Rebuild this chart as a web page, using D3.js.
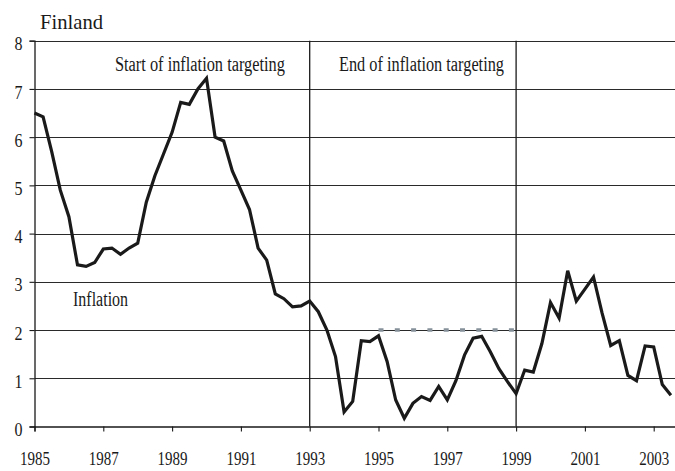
<!DOCTYPE html>
<html>
<head>
<meta charset="utf-8">
<script src="https://cdn.jsdelivr.net/npm/d3@7"></script>
<style>
  body { margin: 0; background: #fff; }
  svg text { font-family: "Liberation Serif", "Times New Roman", serif; fill: #1a1a1a; }
</style>
</head>
<body>
<svg id="chart" width="675" height="471"></svg>
<script>
// quarterly inflation, Finland, 1985Q1 .. 2003Q3
var startYear = 1985;
var inflation = [
  6.50, 6.42, 5.70, 4.90, 4.35, 3.35, 3.32, 3.40,
  3.68, 3.70, 3.57, 3.70, 3.80, 4.65, 5.20, 5.65,
  6.10, 6.72, 6.68, 7.00, 7.22, 6.00, 5.92, 5.30,
  4.90, 4.50, 3.70, 3.45, 2.75, 2.65, 2.48, 2.50,
  2.60, 2.38, 2.00, 1.45, 0.30, 0.52, 1.78, 1.76,
  1.88, 1.35, 0.55, 0.17, 0.48, 0.62, 0.54, 0.83,
  0.55, 0.95, 1.48, 1.83, 1.87, 1.55, 1.20, 0.93,
  0.68, 1.17, 1.13, 1.72, 2.57, 2.25, 3.23, 2.60,
  2.85, 3.10, 2.35, 1.68, 1.78, 1.06, 0.95, 1.67,
  1.65, 0.87, 0.65
];
var yTicks = [0, 1, 2, 3, 4, 5, 6, 7, 8];
var xTicks = [1985, 1987, 1989, 1991, 1993, 1995, 1997, 1999, 2001, 2003];
var regimeLines = [1993, 1999];
var target = { from: 1995, to: 1999, value: 2 };
var notes = [
  { text: "Start of inflation targeting", year: 1989.81, value: 7.3, len: 170 },
  { text: "End of inflation targeting", year: 1996.25, value: 7.3, len: 165 },
  { text: "Inflation", year: 1986.92, value: 2.44, len: 55 }
];

var svg = d3.select("#chart");
var W = 675;

var x = d3.scaleLinear().domain([1985, 2004]).range([34.5, 34.5 + 19 * 34.4]);
var y = d3.scaleLinear().domain([0, 8]).range([426.5, 40.7]);

var data = inflation.map(function(v, i) {
  return { t: startYear + i / 4, v: v };
});

// horizontal grid
svg.append("g").selectAll("line")
  .data(yTicks.filter(function(d) { return d > 0; }))
  .join("line")
  .attr("x1", x(1985)).attr("x2", W)
  .attr("y1", function(d) { return Math.round(y(d)) + 0.5; })
  .attr("y2", function(d) { return Math.round(y(d)) + 0.5; })
  .attr("stroke", "#2a2a2a").attr("stroke-width", 1.1);

// regime change lines
svg.append("g").selectAll("line")
  .data(regimeLines)
  .join("line")
  .attr("x1", function(d) { return x(d); }).attr("x2", function(d) { return x(d); })
  .attr("y1", y(8)).attr("y2", y(0))
  .attr("stroke", "#1a1a1a").attr("stroke-width", 1.3);

// y axis
var yAxis = d3.axisLeft(y).tickValues(yTicks).tickSize(5).tickPadding(8).tickFormat(d3.format("d"));
var gy = svg.append("g").attr("transform", "translate(" + x(1985) + ",0)").call(yAxis);
gy.select(".domain").attr("stroke", "#1a1a1a").attr("stroke-width", 1.3);
gy.selectAll(".tick line").attr("stroke", "#1a1a1a").attr("stroke-width", 1.1);
gy.selectAll(".tick text")
  .attr("font-size", 19).attr("dy", "0.48em").attr("x", -12)
  .attr("textLength", 8).attr("lengthAdjust", "spacingAndGlyphs")
  .attr("fill", "#1a1a1a");

// x axis
var xAxis = d3.axisBottom(x).tickValues(xTicks).tickSize(5).tickPadding(20).tickFormat(d3.format("d"));
var gx = svg.append("g").attr("transform", "translate(0," + y(0) + ")").call(xAxis);
gx.select(".domain").attr("stroke", "#1a1a1a").attr("stroke-width", 1.3);
gx.selectAll(".tick line").attr("stroke", "#1a1a1a").attr("stroke-width", 1.1);
gx.selectAll(".tick text")
  .attr("font-size", 19)
  .attr("textLength", 30).attr("lengthAdjust", "spacingAndGlyphs")
  .attr("fill", "#1a1a1a");

// target line
svg.append("line")
  .attr("x1", x(target.from)).attr("x2", x(target.to))
  .attr("y1", y(target.value)).attr("y2", y(target.value))
  .attr("stroke", "#86919a").attr("stroke-width", 3.4)
  .attr("stroke-dasharray", "5,11.3");

// inflation line
var line = d3.line().x(function(d) { return x(d.t); }).y(function(d) { return y(d.v); });
svg.append("path")
  .datum(data)
  .attr("d", line)
  .attr("fill", "none")
  .attr("stroke", "#1a1a1a")
  .attr("stroke-width", 3.2)
  .attr("stroke-linejoin", "miter");

// annotations
svg.append("g").selectAll("text")
  .data(notes)
  .join("text")
  .attr("x", function(d) { return x(d.year); })
  .attr("y", function(d) { return y(d.value) - 3; })
  .attr("text-anchor", "middle")
  .attr("font-size", 20)
  .attr("textLength", function(d) { return d.len; })
  .attr("lengthAdjust", "spacingAndGlyphs")
  .text(function(d) { return d.text; });

// title
svg.append("text")
  .attr("x", 40).attr("y", 29)
  .attr("font-size", 21)
  .attr("textLength", 63).attr("lengthAdjust", "spacingAndGlyphs")
  .text("Finland");
</script>
</body>
</html>
